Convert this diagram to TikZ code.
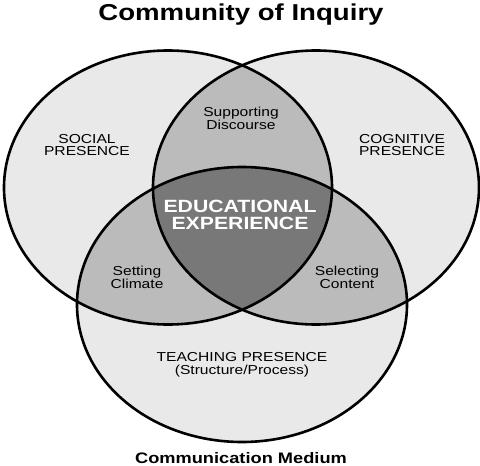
\documentclass[tikz,border=0pt]{standalone}
\usepackage{fontspec}
\newfontfamily\lab[FakeStretch=1.2]{Liberation Sans}
\definecolor{light}{RGB}{233,233,233}
\definecolor{mid}{RGB}{187,187,187}
\definecolor{dark}{RGB}{120,120,120}
\begin{document}
\begin{tikzpicture}[x=1pt,y=-1pt,
  lbl/.style={font=\lab\fontsize{13}{12.5}\selectfont, align=center, inner sep=0pt, text=black},
  ring/.style={line width=2.6pt, draw=black},
  ttl/.style={font=\lab\bfseries\fontsize{23}{23}\selectfont, inner sep=0pt, anchor=base}]
\useasboundingbox (0,0) rectangle (480,466);
\fill[white] (0,0) rectangle (480,466);
\def\EA{(168,187.5) ellipse [x radius=164pt, y radius=137pt]}
\def\EB{(316,187.5) ellipse [x radius=163pt, y radius=137pt]}
\def\EC{(242,304.5) ellipse [x radius=165pt, y radius=137.5pt]}
% base fills
\fill[light] \EA; \fill[light] \EB; \fill[light] \EC;
% pairwise
\begin{scope}\clip \EA; \fill[mid] \EB; \fill[mid] \EC; \end{scope}
\begin{scope}\clip \EB; \fill[mid] \EC; \end{scope}
% center
\begin{scope}\clip \EA; \clip \EB; \fill[dark] \EC; \end{scope}
% outlines
\draw[ring] \EA; \draw[ring] \EB; \draw[ring] \EC;
% texts
\node[ttl] (title) at (241,20) {Community of Inquiry};
\node[ttl, font=\lab\bfseries\fontsize{15.2}{15}\selectfont] (medium) at (241,463) {Communication Medium};
\node[lbl] (social) at (87,145) {SOCIAL\\PRESENCE};
\node[lbl] (cognitive) at (402,145) {COGNITIVE\\PRESENCE};
\node[lbl] (support) at (241,118.5) {Supporting\\Discourse};
\node[lbl, text=white, font=\lab\bfseries\fontsize{17.7}{17}\selectfont] (edu) at (240,214.5) {EDUCATIONAL\\EXPERIENCE};
\node[lbl] (setting) at (137,277.5) {Setting\\Climate};
\node[lbl] (select) at (347,277.5) {Selecting\\Content};
\node[lbl] (teach) at (242,365) {TEACHING PRESENCE\\(Structure/Process)};
\end{tikzpicture}
\end{document}
